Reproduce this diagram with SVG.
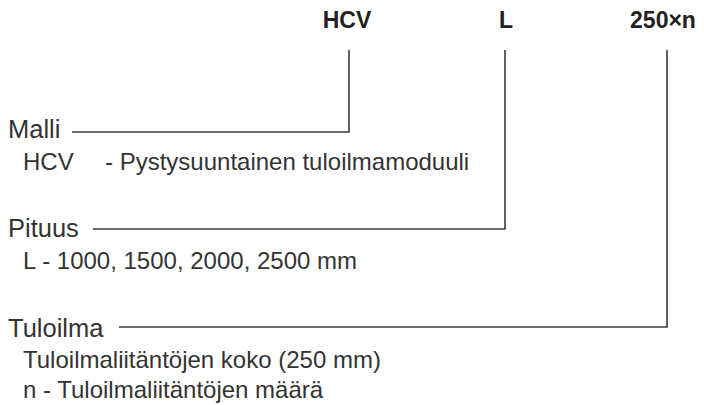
<svg xmlns="http://www.w3.org/2000/svg" width="704" height="405" viewBox="0 0 704 405">
<style>
.h{font-family:"Liberation Sans",Arial,sans-serif;font-size:23px;font-weight:bold;fill:#222}
.t{font-family:"Liberation Sans",Arial,sans-serif;font-size:25.5px;fill:#333}
.s{font-family:"Liberation Sans",Arial,sans-serif;font-size:24px;fill:#333}
.c{fill:none;stroke:#3a3a3a;stroke-width:1.6}
</style>
<rect width="704" height="405" fill="#fff"/>
<g id="code-hcv"><text class="h" x="347" y="28" text-anchor="middle">HCV</text></g>
<g id="code-l"><text class="h" x="506" y="28" text-anchor="middle">L</text></g>
<g id="code-250n"><text class="h" x="663" y="28" text-anchor="middle">250×n</text></g>
<g id="malli"><text class="t" x="8" y="138">Malli</text><text class="s" x="23" y="170">HCV</text><text class="s" x="105" y="170">- Pystysuuntainen tuloilmamoduuli</text></g>
<g id="pituus"><text class="t" x="8" y="237">Pituus</text><text class="s" x="23" y="269">L - 1000, 1500, 2000, 2500 mm</text></g>
<g id="tuloilma"><text class="t" x="8" y="337">Tuloilma</text><text class="s" x="23" y="368">Tuloilmaliitäntöjen koko (250 mm)</text><text class="s" x="23" y="398">n - Tuloilmaliitäntöjen määrä</text></g>
<g id="connectors">
<polyline class="c" points="72,132 349,132 349,50"/>
<polyline class="c" points="93,229 505,229 505,50"/>
<polyline class="c" points="119,327 667,327 667,50"/>
</g>
</svg>
